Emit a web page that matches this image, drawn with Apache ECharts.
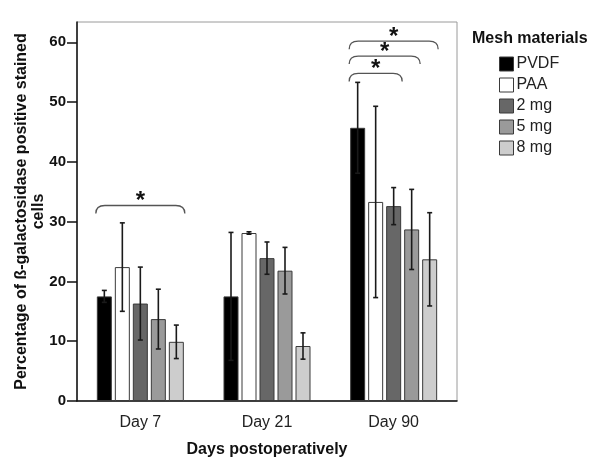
<!DOCTYPE html>
<html><head><meta charset="utf-8">
<script src="https://cdn.jsdelivr.net/npm/echarts@6/dist/echarts.min.js"></script>
<style>html,body{margin:0;padding:0;background:#fff}#c{width:600px;height:471px}</style>
</head><body><div id="c"></div>
<script>
// ---- data ----
const categories = ['Day 7', 'Day 21', 'Day 90'];
const materials = ['PVDF', 'PAA', '2 mg', '5 mg', '8 mg'];
const pvdf = [17.5, 17.5, 45.7];
const paa  = [22.4, 28.1, 33.3];
const mg2  = [16.3, 23.9, 32.6];
const mg5  = [13.7, 21.8, 28.7];
const mg8  = [9.9, 9.2, 23.7];
const pvdfErr = [1.0, 10.7, 7.6];
const paaErr  = [7.4, 0.2, 16.0];
const mg2Err  = [6.1, 2.7, 3.1];
const mg5Err  = [5.0, 3.9, 6.7];
const mg8Err  = [2.8, 2.2, 7.8];
const yTicks = [0, 10, 20, 30, 40, 50, 60];
// significance brackets: [category index, from bar, to bar, level]
const brackets = [[0, 0, 4, 32.7], [2, 0, 2, 54.8], [2, 0, 3, 57.7], [2, 0, 4, 60.2]];

// ---- style ----
const FONT = 'Liberation Sans, Arial, sans-serif';
const BAR_W = 15, GAP = 3;
const colors = ['#000000', '#ffffff', '#676767', '#9a9a9a', '#cdcdcd'];
const values = [pvdf, paa, mg2, mg5, mg8];
const errs = [pvdfErr, paaErr, mg2Err, mg5Err, mg8Err];
const nBars = materials.length;
function barOffset(i) { return (i - (nBars - 1) / 2) * (BAR_W + GAP); }

const series = [];
materials.forEach((m, i) => {
  series.push({
    name: m, type: 'bar', data: values[i], barWidth: BAR_W, barGap: (GAP / BAR_W * 100) + '%',
    itemStyle: { color: colors[i], borderColor: '#3a3a3a', borderWidth: 1 },
    z: 2
  });
});
materials.forEach((m, i) => {
  series.push({
    type: 'custom', z: 5, silent: true,
    data: values[i].map((v, k) => [k, v, errs[i][k]]),
    renderItem: function (params, api) {
      const k = api.value(0), v = api.value(1), e = api.value(2);
      const top = api.coord([k, v + e]);
      const bot = api.coord([k, v - e]);
      const x = top[0] + barOffset(i);
      const cw = 2.5;
      const st = { stroke: '#1a1a1a', lineWidth: 1.6 };
      return { type: 'group', children: [
        { type: 'line', shape: { x1: x, y1: top[1], x2: x, y2: bot[1] }, style: st },
        { type: 'line', shape: { x1: x - cw, y1: top[1], x2: x + cw, y2: top[1] }, style: st },
        { type: 'line', shape: { x1: x - cw, y1: bot[1], x2: x + cw, y2: bot[1] }, style: st }
      ]};
    }
  });
});
series.push({
  type: 'custom', z: 6, silent: true,
  data: brackets,
  renderItem: function (params, api) {
    const k = api.value(0), a = api.value(1), b = api.value(2), lv = api.value(3);
    const p = api.coord([k, lv]);
    const x1 = p[0] + barOffset(a) - BAR_W / 2 - 1;
    const x2 = p[0] + barOffset(b) + BAR_W / 2 + 1;
    const y = p[1], d = 8, r = 9;
    const path = 'M' + x1 + ' ' + (y + d) + ' Q' + x1 + ' ' + y + ' ' + (x1 + r) + ' ' + y +
      ' L' + (x2 - r) + ' ' + y + ' Q' + x2 + ' ' + y + ' ' + x2 + ' ' + (y + d);
    return { type: 'group', children: [
      { type: 'path', shape: { pathData: path }, style: { stroke: '#555', lineWidth: 1.3, fill: null } },
      { type: 'text', style: { text: '*', x: (x1 + x2) / 2, y: y - 4, align: 'center', verticalAlign: 'middle',
        font: 'bold 24px ' + FONT, fill: '#111' } }
    ]};
  }
});

const chart = echarts.init(document.getElementById('c'), null, { renderer: 'canvas' });
chart.setOption({
  animation: false,
  backgroundColor: '#fff',
  grid: { left: 77, right: 143, top: 22, bottom: 70, show: true, borderColor: '#9a9a9a', borderWidth: 1,
    containLabel: false, outerBoundsMode: 'none' },
  title: { text: 'Mesh materials', left: 467, top: 26,
    textStyle: { fontFamily: FONT, fontSize: 16, fontWeight: 'bold', color: '#111' } },
  legend: {
    data: materials, orient: 'vertical', left: 494, top: 51, itemWidth: 14, itemHeight: 14, itemGap: 5,
    icon: 'rect', selectedMode: false,
    textStyle: { fontFamily: FONT, fontSize: 16, color: '#222', padding: [0, 0, 0, -2] },
    itemStyle: { borderColor: '#3a3a3a', borderWidth: 1 }
  },
  xAxis: {
    type: 'category', data: categories,
    name: 'Days postoperatively', nameLocation: 'middle', nameGap: 41, nameMoveOverlap: false,
    nameTextStyle: { fontFamily: FONT, fontSize: 16, fontWeight: 'bold', color: '#111' },
    axisLine: { lineStyle: { color: '#111', width: 1.5 } },
    axisTick: { alignWithLabel: true, length: 10, lineStyle: { color: '#111', width: 1.5 } },
    axisLabel: { fontFamily: FONT, fontSize: 16, color: '#222', margin: 14 }
  },
  yAxis: {
    type: 'value', min: 0, max: 63.4, interval: 10,
    name: 'Percentage of ß-galactosidase positive stained\ncells', nameLocation: 'middle', nameGap: 30,
    nameRotate: 90, nameMoveOverlap: false,
    nameTextStyle: { fontFamily: FONT, fontSize: 16, fontWeight: 'bold', color: '#111', lineHeight: 17 },
    axisLine: { show: true, lineStyle: { color: '#111', width: 1.5 } },
    axisTick: { show: true, length: 10, customValues: yTicks, lineStyle: { color: '#111', width: 1.5 } },
    axisLabel: { fontFamily: FONT, fontSize: 15, fontWeight: 'bold', color: '#111', margin: 11, customValues: yTicks },
    splitLine: { show: false }
  },
  series: series
});
</script>
</body></html>
